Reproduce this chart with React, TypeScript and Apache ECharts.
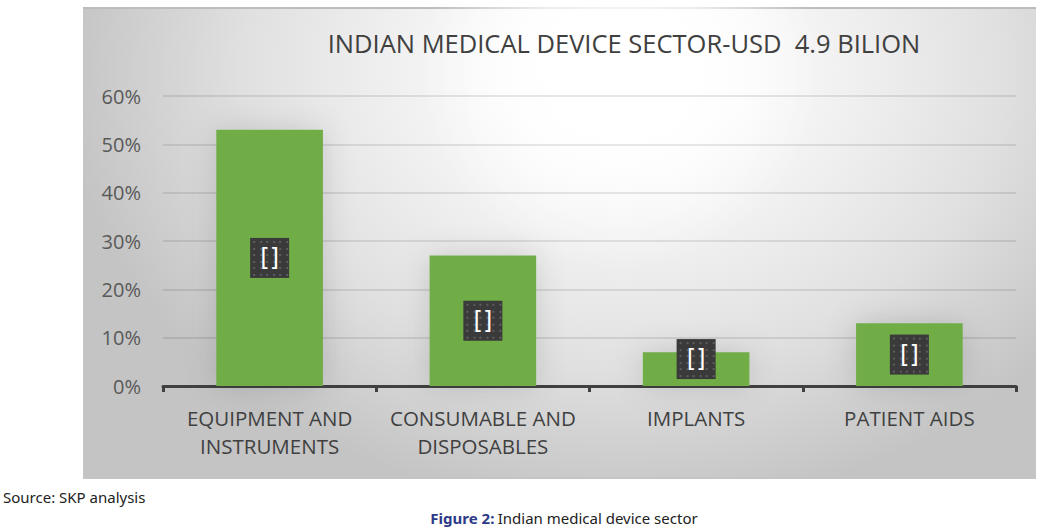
import React, { useEffect, useRef } from "react";
import * as echarts from "echarts";

const TITLE = "INDIAN MEDICAL DEVICE SECTOR-USD  4.9 BILION";
const categories = ["EQUIPMENT AND\nINSTRUMENTS", "CONSUMABLE AND\nDISPOSABLES", "IMPLANTS", "PATIENT AIDS"];
const shares = [53, 27, 7, 13];
const labelTexts = ["[]", "[]", "[]", "[]"];
const yTicks = { min: 0, max: 60, interval: 10 };
const SOURCE = "Source: SKP analysis";
const FIG_LABEL = "Figure 2:";
const FIG_TEXT = "Indian medical device sector";

function makeTexture(): string {
  const c = document.createElement("canvas");
  c.width = 39;
  c.height = 40;
  const ctx = c.getContext("2d");
  if (!ctx) return "";
  ctx.fillStyle = "#3a3a3a";
  ctx.fillRect(0, 0, 39, 40);
  ctx.fillStyle = "#5e5e5e";
  for (let y = 3; y < 40; y += 6.5) {
    for (let x = 3; x < 39; x += 6.5) {
      ctx.fillRect(Math.round(x), Math.round(y), 2, 2);
    }
  }
  return c.toDataURL();
}

export default function App() {
  const ref = useRef<HTMLDivElement>(null);
  useEffect(() => {
    if (!ref.current) return;
    const chart = echarts.init(ref.current, null, { renderer: "svg" });
    const tex = makeTexture();
    const font = "'Open Sans', 'Noto Sans', sans-serif";
    chart.setOption({
      animation: false,
      backgroundColor: "transparent",
      graphic: [
        {
          type: "circle",
          z: -5,
          silent: true,
          shape: { cx: 620, cy: 70, r: 200 },
          style: {
            fill: {
              type: "radial",
              x: 0.5,
              y: 0.5,
              r: 0.5,
              colorStops: [
                { offset: 0, color: "rgba(255,255,255,1)" },
                { offset: 0.5, color: "rgba(255,255,255,0.7)" },
                { offset: 1, color: "rgba(255,255,255,0)" },
              ],
            },
          },
        },
        {
          type: "text",
          x: 624,
          y: 43,
          style: {
            text: TITLE,
            fontSize: 25.5,
            fontFamily: font,
            fill: "#404040",
            align: "center",
            verticalAlign: "middle",
          },
        },
        {
          type: "text",
          x: 3,
          y: 497,
          style: {
            text: SOURCE,
            fontSize: 15,
            fontFamily: "'Liberation Sans Narrow', 'Noto Sans', sans-serif",
            fill: "#222222",
            verticalAlign: "middle",
          },
        },
        {
          type: "text",
          x: 564,
          y: 518,
          style: {
            text: `{b|${FIG_LABEL}} {n|${FIG_TEXT}}`,
            align: "center",
            verticalAlign: "middle",
            rich: {
              b: {
                fontSize: 15,
                fontWeight: "bold",
                fontFamily: "'Liberation Sans Narrow', 'Noto Sans', sans-serif",
                fill: "#2e3a87",
              },
              n: {
                fontSize: 15,
                fontFamily: "'Liberation Sans Narrow', 'Noto Sans', sans-serif",
                fill: "#222222",
              },
            },
          },
        },
      ],
      grid: { left: 163, right: 37, top: 96, bottom: 145 },
      xAxis: {
        type: "category",
        data: categories,
        axisLine: { lineStyle: { color: "#404040", width: 3 } },
        axisTick: { show: true, length: 6, lineStyle: { color: "#404040", width: 3 } },
        axisLabel: {
          fontSize: 20.5,
          lineHeight: 28,
          margin: 18,
          color: "#404040",
          fontFamily: font,
          interval: 0,
        },
      },
      yAxis: {
        type: "value",
        min: yTicks.min,
        max: yTicks.max,
        interval: yTicks.interval,
        axisLine: { show: false },
        axisTick: { show: false },
        splitLine: { lineStyle: { color: "rgba(0,0,0,0.13)", width: 1.5 } },
        axisLabel: {
          formatter: "{value}%",
          fontSize: 20,
          margin: 22,
          color: "#595959",
          fontFamily: font,
        },
      },
      series: [
        {
          type: "bar",
          barWidth: "50%",
          data: shares.map((v, i) => ({
            value: v,
            label: {
              formatter: labelTexts[i],
              offset: i === 2 ? [0, -10] : [0, 0],
            },
          })),
          itemStyle: {
            color: "#70ad47",
            shadowBlur: 30,
            shadowColor: "rgba(0,0,0,0.14)",
          },
          label: {
            show: true,
            position: "inside",
            color: "#ffffff",
            fontSize: 24,
            fontFamily: "'DejaVu Sans', sans-serif",
            width: 39,
            height: 40,
            lineHeight: 40,
            align: "center",
            verticalAlign: "middle",
            backgroundColor: tex ? { image: tex } : "#3a3a3a",
            shadowBlur: 6,
            shadowOffsetX: 3,
            shadowOffsetY: 3,
            shadowColor: "rgba(0,0,0,0.45)",
          },
        },
      ],
    });
    return () => chart.dispose();
  }, []);
  return (
    <div style={{ position: "fixed", left: 0, top: 0, width: 1053, height: 531, background: "#ffffff" }}>
      <div
        style={{
          position: "absolute",
          left: 83,
          top: 7,
          width: 953,
          height: 468,
          borderTop: "2px solid #bcbcbc",
          borderBottom: "2px solid #c4c4c4",
          backgroundColor: "#d4d4d4",
          backgroundImage:
            "radial-gradient(ellipse 560px 440px at 540px 60px, #ffffff 0%, #ffffff 12%, #f7f7f7 28%, #ececec 48%, #e0e0e0 68%, #d0d0d0 86%, #c4c4c4 100%)",
        }}
      />
      <div
        ref={ref}
        style={{ position: "absolute", left: 0, top: 0, width: 1053, height: 531 }}
      />
    </div>
  );
}
